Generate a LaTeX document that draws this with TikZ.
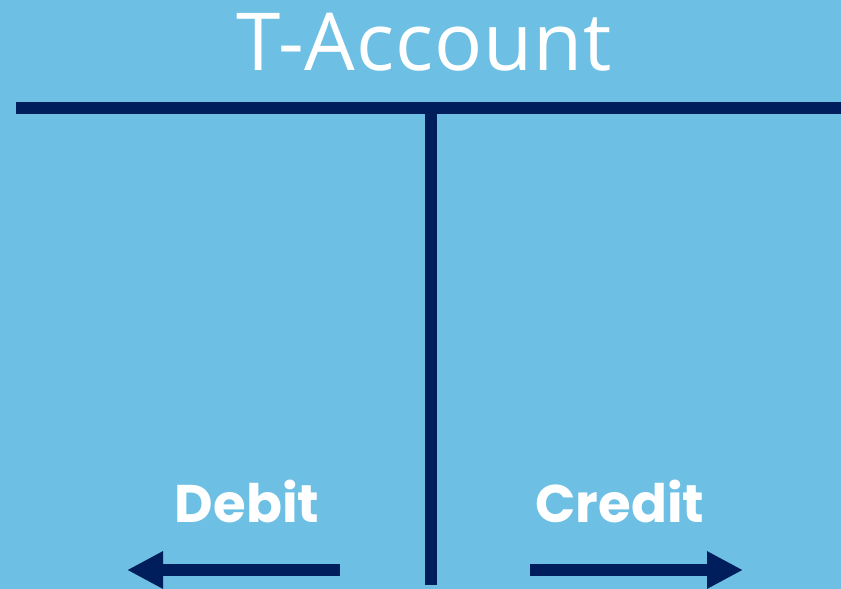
\documentclass[tikz,border=0pt]{standalone}
\usepackage{fontspec}
\setmainfont{Open Sans}
\newfontfamily\titlefont[LetterSpace=1]{Open Sans}
\newfontfamily\labelfont{Poppins}
\usetikzlibrary{arrows.meta}
\definecolor{bgblue}{HTML}{6DBFE4}
\definecolor{navy}{HTML}{001E5C}
\tikzset{
  bar/.style={draw=navy, line width=12pt, line cap=butt},
  arr/.style={draw=navy, line width=12pt, -{Triangle[length=36pt,width=35pt]}},
  ttl/.style={text=white, font=\titlefont\fontsize{80}{80}\selectfont, anchor=base, inner sep=0pt},
  lbl/.style={text=white, font=\labelfont\bfseries\fontsize{53}{53}\selectfont, anchor=base, inner sep=0pt}
}
\begin{document}
\begin{tikzpicture}[x=1pt,y=-1pt]
\fill[bgblue] (0,0) rectangle (841,589);
\useasboundingbox (0,0) rectangle (841,589);
\node[ttl] (title) at (424,70) {T-Account};
\coordinate (hl) at (16,108);
\coordinate (hr) at (841,108);
\coordinate (vt) at (431,108);
\coordinate (vb) at (431,585);
\draw[bar] (hl) -- (hr);
\draw[bar] (vt) -- (vb);
\node[lbl] (debit) at (247,522) {Debit};
\node[lbl] (credit) at (620,522) {Credit};
\coordinate (ds) at (340,570);
\coordinate (de) at (127,570);
\coordinate (cs) at (530,570);
\coordinate (ce) at (743,570);
\draw[arr] (ds) -- (de);
\draw[arr] (cs) -- (ce);
\end{tikzpicture}
\end{document}
